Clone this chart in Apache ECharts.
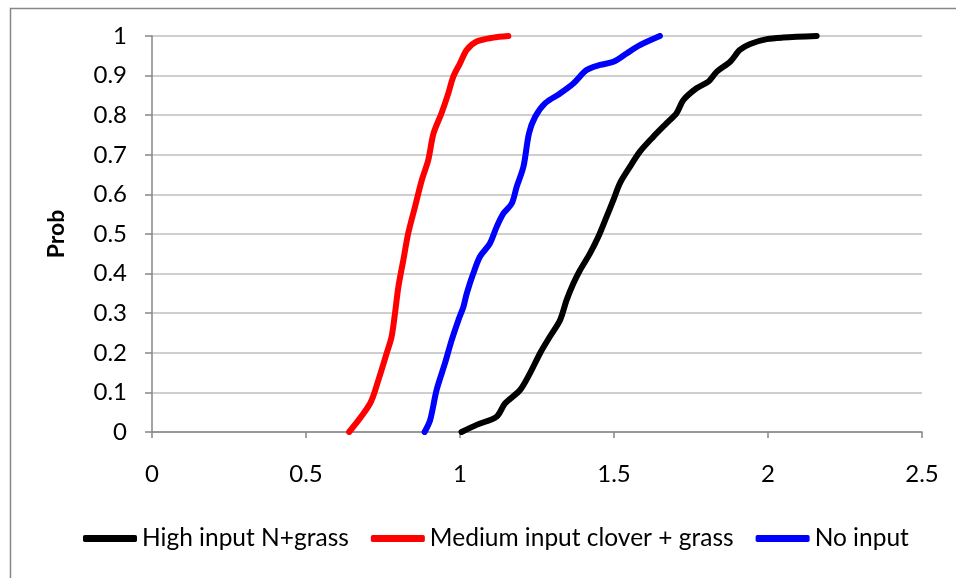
<!DOCTYPE html>
<html>
<head>
<meta charset="utf-8">
<script src="https://cdn.jsdelivr.net/npm/echarts@6/dist/echarts.min.js"></script>
<style>
html,body{margin:0;padding:0;background:#fff;}
#chart{width:956px;height:578px;}
</style>
</head>
<body>
<div id="chart"></div>
<script>
var seriesNames = ['High input N+grass', 'Medium input clover + grass', 'No input'];
var seriesColors = ['#000000', '#ff0000', '#0000ff'];

var highX = [1.005, 1.054, 1.119, 1.146, 1.195, 1.227, 1.26, 1.292, 1.325, 1.346, 1.368, 1.39, 1.422, 1.449, 1.476, 1.498, 1.519, 1.552, 1.584, 1.628, 1.671, 1.703, 1.725, 1.768, 1.807, 1.834, 1.877, 1.909, 1.942, 1.996, 2.049, 2.158];
var highY = [0.0, 0.018, 0.039, 0.072, 0.106, 0.148, 0.199, 0.241, 0.283, 0.333, 0.375, 0.409, 0.451, 0.493, 0.544, 0.586, 0.628, 0.67, 0.708, 0.746, 0.78, 0.805, 0.838, 0.868, 0.885, 0.91, 0.935, 0.965, 0.98, 0.992, 0.996, 1.0];

var medX = [0.64, 0.708, 0.735, 0.762, 0.778, 0.789, 0.8, 0.816, 0.832, 0.854, 0.876, 0.897, 0.914, 0.94, 0.962, 0.978, 1.0, 1.022, 1.054, 1.108, 1.157];
var medY = [0.0, 0.072, 0.131, 0.199, 0.241, 0.3, 0.367, 0.434, 0.502, 0.569, 0.636, 0.687, 0.754, 0.805, 0.855, 0.897, 0.931, 0.965, 0.986, 0.996, 1.0];

var noX = [0.885, 0.903, 0.924, 0.951, 0.973, 0.995, 1.011, 1.022, 1.043, 1.065, 1.097, 1.119, 1.141, 1.168, 1.184, 1.206, 1.224, 1.244, 1.276, 1.325, 1.368, 1.411, 1.455, 1.498, 1.541, 1.584, 1.649];
var noY = [0.0, 0.03, 0.106, 0.173, 0.232, 0.283, 0.316, 0.35, 0.4, 0.443, 0.476, 0.518, 0.552, 0.577, 0.619, 0.67, 0.754, 0.796, 0.83, 0.855, 0.88, 0.914, 0.927, 0.935, 0.956, 0.977, 1.0];

var xTicks = [0, 0.5, 1, 1.5, 2, 2.5];
var yTicks = [0, 0.1, 0.2, 0.3, 0.4, 0.5, 0.6, 0.7, 0.8, 0.9, 1];

function zip(xs, ys) {
  var out = [];
  for (var i = 0; i < xs.length; i++) out.push([xs[i], ys[i]]);
  return out;
}
var allData = [zip(highX, highY), zip(medX, medY), zip(noX, noY)];

var chart = echarts.init(document.getElementById('chart'), null, {renderer: 'canvas'});
var fontFam = 'Lato, "Noto Sans", sans-serif';

var option = {
  animation: false,
  backgroundColor: '#ffffff',
  textStyle: {fontFamily: fontFam},
  graphic: [{
    type: 'rect',
    left: 8, top: 6,
    shape: {width: 1000, height: 1000},
    style: {fill: 'none', stroke: '#878787', lineWidth: 1.5},
    silent: true
  }],
  grid: {left: 152, right: 34, top: 36, bottom: 146, containLabel: false},
  xAxis: {
    type: 'value',
    min: xTicks[0], max: xTicks[xTicks.length - 1], interval: 0.5,
    axisLine: {show: true, onZero: false, lineStyle: {color: '#868686', width: 1.5}},
    axisTick: {show: true, length: 6, lineStyle: {color: '#868686', width: 1.5}},
    splitLine: {show: false},
    axisLabel: {color: '#000', fontSize: 24, margin: 30, fontFamily: fontFam,
      formatter: function (v) { return String(v); }}
  },
  yAxis: {
    type: 'value',
    min: yTicks[0], max: yTicks[yTicks.length - 1], interval: 0.1,
    name: 'Prob',
    nameLocation: 'middle',
    nameGap: 84,
    nameTextStyle: {color: '#000', fontSize: 23, fontWeight: 'bold', fontFamily: fontFam},
    axisLine: {show: true, lineStyle: {color: '#868686', width: 1.5}},
    axisTick: {show: true, length: 7, lineStyle: {color: '#868686', width: 1.5}},
    splitLine: {show: true, lineStyle: {color: '#bfbfbf', width: 1.5}},
    axisLabel: {color: '#000', fontSize: 24, margin: 25, fontFamily: fontFam,
      formatter: function (v) { return String(Math.round(v * 10) / 10); }}
  },
  legend: {
    bottom: 22,
    left: 78,
    icon: 'roundRect',
    itemWidth: 54,
    itemHeight: 7,
    itemGap: 22,
    textStyle: {color: '#000', fontSize: 24.5, fontFamily: fontFam},
    data: seriesNames
  },
  series: seriesNames.map(function (n, i) {
    return {
      name: n,
      type: 'line',
      data: allData[i],
      showSymbol: false,
      symbol: 'none',
      smooth: 0.3,
      color: seriesColors[i],
      lineStyle: {color: seriesColors[i], width: 6, cap: 'round', join: 'round'},
      z: 3 - i
    };
  })
};
chart.setOption(option);
</script>
</body>
</html>
